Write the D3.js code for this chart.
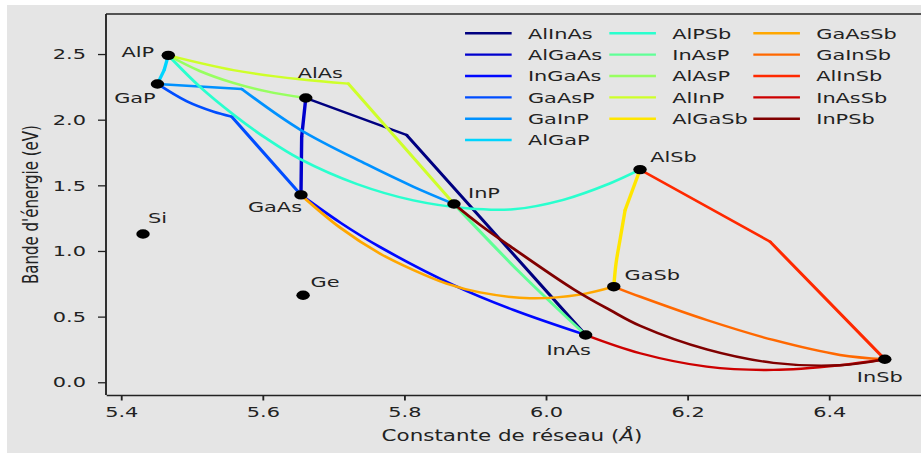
<!DOCTYPE html>
<html>
<head>
<meta charset="utf-8">
<script src="https://cdn.jsdelivr.net/npm/d3@7"></script>
<style>
  html, body { margin: 0; padding: 0; background: #ffffff; }
  svg { display: block; }
  text { font-family: "DejaVu Sans", sans-serif; fill: #222; }
</style>
</head>
<body>
<svg id="chart" width="921" height="454"></svg>
<script>
// Binary semiconductors: lattice constant (Å) and band gap (eV)
const binaryNames   = ["AlP", "GaP", "AlAs", "GaAs", "InP", "AlSb", "GaSb", "InAs", "InSb", "Si", "Ge"];
const binaryLattice = [5.4668, 5.4515, 5.6610, 5.6542, 5.8703, 6.1331, 6.0960, 6.0563, 6.4788, 5.4311, 5.6572];
const binaryGap     = [2.490, 2.272, 2.165, 1.427, 1.358, 1.620, 0.728, 0.360, 0.175, 1.129, 0.663];

// Ternary alloys, in legend order
const alloyNames = ["AlInAs", "AlGaAs", "InGaAs", "GaAsP", "GaInP", "AlGaP",
                    "AlPSb", "InAsP", "AlAsP", "AlInP", "AlGaSb",
                    "GaAsSb", "GaInSb", "AlInSb", "InAsSb", "InPSb"];

// Each alloy: a list of smooth pieces, each piece a list of [lattice, gap] points
const alloyPaths = [
  [[[5.6610, 2.165], [5.8035, 1.883]], [[5.8035, 1.883], [6.0563, 0.360]]],
  [[[5.6542, 1.427], [5.6552, 1.870]], [[5.6552, 1.870], [5.6610, 2.165]]],
  [[[5.6542, 1.427], [5.7100, 1.215], [5.7658, 1.030], [5.8694, 0.741], [5.9541, 0.551], [6.0563, 0.360]]],
  [[[5.4515, 2.272], [5.4928, 2.140], [5.5304, 2.061], [5.5563, 2.023]], [[5.5563, 2.023], [5.6542, 1.427]]],
  [[[5.4515, 2.272], [5.5705, 2.234]], [[5.5705, 2.234], [5.6528, 1.925], [5.7470, 1.660], [5.8129, 1.490], [5.8703, 1.358]]],
  [[[5.4668, 2.490], [5.4611, 2.380]], [[5.4611, 2.380], [5.4515, 2.272]]],
  [[[5.4668, 2.490], [5.5116, 2.250], [5.5586, 2.040], [5.6058, 1.855], [5.6528, 1.700], [5.7330, 1.510],
    [5.8129, 1.385], [5.8883, 1.325], [5.9540, 1.318], [6.0247, 1.390], [6.0907, 1.515], [6.1331, 1.620]]],
  [[[5.8703, 1.358], [5.9636, 0.835], [6.0563, 0.360]]],
  [[[5.4668, 2.490], [5.5116, 2.370], [5.5586, 2.280], [5.6058, 2.215], [5.6610, 2.165]]],
  [[[5.4668, 2.490], [5.5586, 2.378], [5.6528, 2.308], [5.7210, 2.275]], [[5.7210, 2.275], [5.8703, 1.358]]],
  [[[6.1331, 1.620], [6.1120, 1.311]], [[6.1120, 1.311], [6.1048, 1.084], [6.0992, 0.906], [6.0960, 0.728]]],
  [[[5.6542, 1.427], [5.7100, 1.176], [5.7658, 0.980], [5.8129, 0.855], [5.8600, 0.751], [5.9070, 0.684],
    [5.9777, 0.640], [6.0483, 0.668], [6.0960, 0.728]]],
  [[[6.0960, 0.728], [6.1331, 0.652], [6.2273, 0.474], [6.3213, 0.322], [6.4155, 0.208], [6.4788, 0.175]]],
  [[[6.1331, 1.620], [6.3167, 1.071]], [[6.3167, 1.071], [6.4788, 0.175]]],
  [[[6.0563, 0.360], [6.1331, 0.221], [6.2273, 0.119], [6.3213, 0.094], [6.4155, 0.130], [6.4788, 0.175]]],
  [[[5.8703, 1.358], [5.9070, 1.200], [5.9540, 1.020], [6.0389, 0.710], [6.0907, 0.550], [6.1331, 0.430],
    [6.2273, 0.250], [6.3213, 0.148], [6.4155, 0.130], [6.4788, 0.175]]]
];

const xTicks = [5.4, 5.6, 5.8, 6.0, 6.2, 6.4];
const yTicks = [0.0, 0.5, 1.0, 1.5, 2.0, 2.5];

// Line colours sampled along the jet colormap
const alloyColors = ["#000080", "#0000cd", "#0008ff", "#004dff", "#0091ff", "#00d5ff",
                     "#29ffce", "#60ff97", "#97ff60", "#ceff29", "#ffe600",
                     "#ffa700", "#ff6800", "#ff2900", "#cd0000", "#800000"];

// Label placement relative to each compound's dot (screen px)
const labelOffsets = [[-30.5, 2], [-22.5, 19], [14.5, -20], [-26, 16.7], [30, -6], [33.5, -8],
                      [38.5, -7], [-17, 20], [-5, 22.7], [14.5, -11], [22, -8.3]];

// The figure is drawn in a frame stretched horizontally
const STRETCH = 1.43;
const W = 921, H = 454;
const plot = { left: 106 / STRETCH, top: 14, bottom: 395 };
const fontSize = 14.6;

const svg = d3.select("#chart");

svg.append("rect")
  .attr("x", 7).attr("y", 5)
  .attr("width", W - 7).attr("height", H - 6)
  .attr("fill", "#e5e5e5");

const g = svg.append("g").attr("transform", `scale(${STRETCH},1)`);

const xPerUnit = 708 / STRETCH;
const xMin = 5.4 - (121 - 106) / 708;
const xMax = 6.56;
const x = d3.scaleLinear().domain([xMin, xMax])
  .range([plot.left, plot.left + (xMax - xMin) * xPerUnit]);
const y = d3.scaleLinear().domain([-0.097, 2.805]).range([plot.bottom, plot.top]);

// Alloy curves
const line = d3.line()
  .x(d => x(d[0])).y(d => y(d[1]))
  .curve(d3.curveCatmullRom.alpha(0.5));

alloyPaths.forEach((pieces, i) => {
  const grp = g.append("g").attr("class", "alloy");
  pieces.forEach(pts => {
    grp.append("path")
      .attr("d", line(pts))
      .attr("fill", "none")
      .attr("stroke", alloyColors[i])
      .attr("stroke-width", 2.4)
      .attr("stroke-linejoin", "round")
      .attr("stroke-linecap", "round");
  });
});

// Compound dots and names
binaryNames.forEach((name, i) => {
  const cx = x(binaryLattice[i]), cy = y(binaryGap[i]);
  g.append("circle")
    .attr("cx", cx).attr("cy", cy).attr("r", 4.7)
    .attr("fill", "#000");
  g.append("text")
    .attr("x", cx + labelOffsets[i][0] / STRETCH)
    .attr("y", cy + labelOffsets[i][1])
    .attr("text-anchor", "middle")
    .style("font-size", fontSize + "px")
    .text(name);
});

// Axes
const xAxis = d3.axisBottom(x).tickValues(xTicks).tickFormat(d3.format(".1f"))
  .tickSize(5.5).tickSizeOuter(0).tickPadding(5.9);
const yAxis = d3.axisLeft(y).tickValues(yTicks).tickFormat(d3.format(".1f"))
  .tickSize(5.6).tickSizeOuter(0).tickPadding(8.4);

const gx = g.append("g").attr("transform", `translate(0,${plot.bottom})`).call(xAxis);
const gy = g.append("g").attr("transform", `translate(${plot.left},0)`).call(yAxis);
[gx, gy].forEach(a => {
  a.selectAll("path, line").attr("stroke", "#222").attr("stroke-width", 1.3);
  a.selectAll("text").style("font-size", fontSize + "px").style("font-family", "DejaVu Sans, sans-serif").attr("fill", "#222");
});
gy.select(".domain").attr("d", `M-0,${plot.top}V${plot.bottom}`);

// Top spine
g.append("line")
  .attr("x1", plot.left).attr("x2", x.range()[1])
  .attr("y1", plot.top).attr("y2", plot.top)
  .attr("stroke", "#222").attr("stroke-width", 1.3);

// Axis titles
const xTitle = g.append("text")
  .attr("x", 512 / STRETCH).attr("y", 441.5)
  .attr("text-anchor", "middle")
  .style("font-size", "15px");
xTitle.append("tspan").text("Constante de réseau (");
xTitle.append("tspan").style("font-style", "italic").text("Å");
xTitle.append("tspan").text(")");

g.append("text")
  .attr("transform", `translate(${38 / STRETCH},${(plot.top + plot.bottom) / 2}) rotate(-90)`)
  .attr("text-anchor", "middle")
  .style("font-size", "15px")
  .text("Bande d'énergie (eV)");

// Legend: three columns, filled column by column
const legendRows = [6, 5, 5];
const colX = [325.2, 426.1, 526.8];
const rowY0 = 33.3, rowStep = 21.35, handleLen = 32.6, textGap = 44;
let idx = 0;
legendRows.forEach((n, c) => {
  for (let r = 0; r < n; r++, idx++) {
    const ly = rowY0 + r * rowStep;
    g.append("line")
      .attr("x1", colX[c]).attr("x2", colX[c] + handleLen)
      .attr("y1", ly).attr("y2", ly)
      .attr("stroke", alloyColors[idx]).attr("stroke-width", 2.4);
    g.append("text")
      .attr("x", colX[c] + textGap).attr("y", ly + 5.3)
      .style("font-size", fontSize + "px")
      .text(alloyNames[idx]);
  }
});
</script>
</body>
</html>
